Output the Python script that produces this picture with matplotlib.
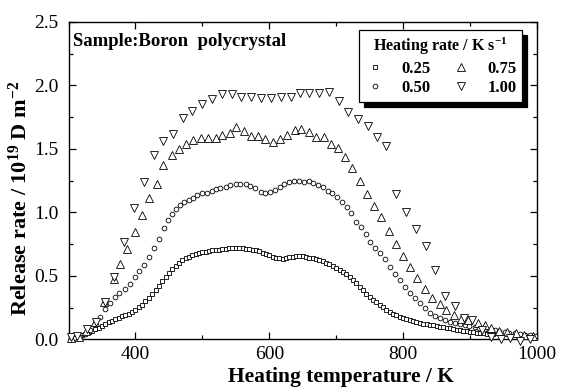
import matplotlib
matplotlib.use("Agg")
import matplotlib.pyplot as plt
from matplotlib.ticker import MultipleLocator, FormatStrFormatter

plt.rcParams['font.family'] = ['Liberation Serif', 'DejaVu Serif']
plt.rcParams['mathtext.default'] = 'regular'

# 0.25 K/s (squares)
t_025 = [305, 310, 315, 320, 325, 330, 335, 340, 345, 350, 355, 360, 365, 370, 375,
         380, 385, 390, 395, 400, 405, 410, 415, 420, 425, 430, 435, 440, 445, 450,
         455, 460, 465, 470, 475, 480, 485, 490, 495, 500, 505, 510, 515, 520, 525,
         530, 535, 540, 545, 550, 555, 560, 565, 570, 575, 580, 585, 590, 595, 600,
         605, 610, 615, 620, 625, 630, 635, 640, 645, 650, 655, 660, 665, 670, 675,
         680, 685, 690, 695, 700, 705, 710, 715, 720, 725, 730, 735, 740, 745, 750,
         755, 760, 765, 770, 775, 780, 785, 790, 795, 800, 805, 810, 815, 820, 825,
         830, 835, 840, 845, 850, 855, 860, 865, 870, 875, 880, 885, 890, 895, 900,
         905, 910, 915, 920, 925, 930, 935]
r_025 = [0.005, 0.013, 0.024, 0.034, 0.045, 0.055, 0.067, 0.079, 0.093, 0.107, 0.12,
         0.134, 0.147, 0.159, 0.17, 0.18, 0.19, 0.203, 0.217, 0.234, 0.252, 0.273,
         0.298, 0.324, 0.354, 0.387, 0.42, 0.457, 0.49, 0.52, 0.55, 0.575, 0.6, 0.622,
         0.638, 0.652, 0.663, 0.675, 0.68, 0.687, 0.69, 0.695, 0.7, 0.704, 0.707,
         0.711, 0.713, 0.716, 0.718, 0.719, 0.718, 0.717, 0.715, 0.711, 0.706, 0.7,
         0.692, 0.683, 0.673, 0.662, 0.652, 0.643, 0.637, 0.635, 0.64, 0.646, 0.651,
         0.655, 0.656, 0.653, 0.648, 0.644, 0.639, 0.633, 0.625, 0.615, 0.604, 0.59,
         0.575, 0.56, 0.546, 0.529, 0.511, 0.493, 0.467, 0.44, 0.414, 0.388, 0.36,
         0.335, 0.31, 0.29, 0.27, 0.251, 0.234, 0.217, 0.203, 0.19, 0.178, 0.169,
         0.16, 0.152, 0.145, 0.137, 0.131, 0.124, 0.118, 0.113, 0.109, 0.104, 0.1,
         0.095, 0.091, 0.087, 0.082, 0.077, 0.073, 0.068, 0.064, 0.06, 0.057, 0.053,
         0.05, 0.047, 0.044, 0.042, 0.04]

# 0.50 K/s (circles)
t_050 = [303, 310, 317.6, 325, 332.5, 340, 346.6, 354, 361.5, 369, 375.8, 383.9,
         391.3, 398.8, 405.7, 412.2, 419.7, 427.2, 434.6, 442, 448.5, 454.5, 460.9,
         466.9, 472.9, 479.3, 485.3, 491.8, 498.8, 506.3, 513.7, 520.1, 527.1, 534.6,
         542, 549.6, 557, 564.5, 571.9, 579.4, 586.9, 594.3, 601.8, 608.2, 615.7,
         622.1, 629.6, 637, 644.5, 651.5, 659, 665.4, 672.8, 680.3, 687.8, 694.3,
         701.2, 709.2, 716.1, 722.7, 730.1, 737.6, 744, 751, 758.5, 766, 773.4,
         780.9, 788.4, 794.8, 802.2, 809.7, 817.2, 824.6, 832.1, 839.6, 847, 854.5,
         862, 869.4, 876.9, 884.3, 891.8, 899, 907, 914, 922, 929, 937, 944, 952,
         959, 967, 974, 982, 989, 997]
r_050 = [0.005, 0.01, 0.02, 0.042, 0.073, 0.12, 0.178, 0.236, 0.283, 0.33, 0.362,
         0.396, 0.433, 0.488, 0.54, 0.585, 0.65, 0.716, 0.79, 0.874, 0.94, 0.99,
         1.024, 1.06, 1.079, 1.097, 1.113, 1.134, 1.15, 1.155, 1.17, 1.183, 1.194,
         1.202, 1.212, 1.22, 1.223, 1.22, 1.21, 1.189, 1.162, 1.15, 1.16, 1.176,
         1.202, 1.223, 1.241, 1.246, 1.249, 1.241, 1.249, 1.228, 1.215, 1.197, 1.17,
         1.15, 1.123, 1.084, 1.044, 0.992, 0.926, 0.882, 0.829, 0.769, 0.716, 0.677,
         0.63, 0.572, 0.514, 0.467, 0.414, 0.362, 0.323, 0.283, 0.244, 0.205, 0.186,
         0.165, 0.152, 0.139, 0.131, 0.12, 0.113, 0.105, 0.098, 0.09, 0.083, 0.077,
         0.07, 0.064, 0.058, 0.052, 0.047, 0.042, 0.037, 0.033, 0.03]

# 0.75 K/s (up triangles)
t_075 = [304, 315, 326.6, 340, 353.5, 367.5, 377.3, 387.3, 398.8, 409.7, 420.6, 432,
         441.5, 454, 465, 475, 486.3, 497.8, 508.7, 519.7, 530, 541, 551, 562,
         573.4, 583.3, 594.3, 605.7, 616.7, 626.6, 638, 648, 659.4, 670.4, 681.3,
         691.8, 702.7, 713.7, 724, 735, 746, 756.4, 767.5, 778.4, 789.8, 799.7,
         810.7, 821, 833, 843.6, 854.5, 864.5, 875.4, 886, 897, 912, 922, 932, 944,
         956, 969, 981, 994]
r_075 = [0.01, 0.02, 0.065, 0.14, 0.29, 0.475, 0.59, 0.708, 0.842, 0.979, 1.11,
         1.223, 1.372, 1.45, 1.5, 1.535, 1.57, 1.587, 1.587, 1.587, 1.609, 1.627,
         1.669, 1.643, 1.6, 1.6, 1.575, 1.556, 1.577, 1.609, 1.648, 1.653, 1.635,
         1.595, 1.595, 1.535, 1.509, 1.438, 1.345, 1.25, 1.144, 1.052, 0.965, 0.853,
         0.75, 0.656, 0.572, 0.485, 0.4, 0.323, 0.276, 0.231, 0.191, 0.16, 0.152,
         0.131, 0.113, 0.092, 0.068, 0.06, 0.047, 0.034, 0.026]

# 1.00 K/s (down triangles)
t_100 = [303, 312, 327, 341, 355, 368, 383, 398, 413, 427, 441, 456, 471, 485, 499,
         515, 530, 544, 558, 573, 588, 603, 618, 632, 646, 660, 674, 689, 704, 718,
         733, 748, 761, 775, 790, 805, 819, 834, 848, 862, 877, 891, 903, 918, 932,
         946, 960, 975, 989]
r_100 = [0.02, 0.03, 0.08, 0.14, 0.29, 0.49, 0.77, 1.03, 1.24, 1.45, 1.56, 1.62,
         1.74, 1.8, 1.85, 1.89, 1.93, 1.93, 1.91, 1.91, 1.9, 1.9, 1.91, 1.91, 1.94,
         1.94, 1.94, 1.945, 1.88, 1.79, 1.735, 1.68, 1.595, 1.52, 1.144, 1.005, 0.87,
         0.735, 0.546, 0.34, 0.262, 0.165, 0.15, 0.07, 0.02, 0.0, 0.01, -0.01, 0.0]

fig, ax = plt.subplots(figsize=(5.64, 3.92), dpi=100)
fig.subplots_adjust(left=0.1215, right=0.952, bottom=0.1344, top=0.9444)

mk = dict(linestyle='none', markerfacecolor='white', markeredgecolor='black',
          markeredgewidth=0.6, clip_on=False)
ax.plot(t_025, r_025, marker='s', markersize=2.7, label='0.25', zorder=3, **mk)
ax.plot(t_050, r_050, marker='o', markersize=3.4, label='0.50', zorder=3, **mk)
ax.plot(t_075, r_075, marker='^', markersize=5.5, label='0.75', zorder=3, **mk)
ax.plot(t_100, r_100, marker='v', markersize=5.5, label='1.00', zorder=3, **mk)

ax.set_xlim(300, 1000)
ax.set_ylim(0, 2.5)
ax.xaxis.set_major_locator(MultipleLocator(200))
ax.xaxis.set_minor_locator(MultipleLocator(100))
ax.yaxis.set_major_locator(MultipleLocator(0.5))
ax.yaxis.set_minor_locator(MultipleLocator(0.25))
ax.yaxis.set_major_formatter(FormatStrFormatter('%.1f'))
ax.tick_params(which='both', direction='in', top=True, right=True, labelsize=14,
               width=0.9)
ax.tick_params(axis='y', pad=7)
ax.tick_params(axis='x', pad=5)
ax.tick_params(which='major', length=5)
ax.tick_params(which='minor', length=3)
for s in ax.spines.values():
    s.set_linewidth(1.0)

ax.set_xlabel('Heating temperature / K', fontsize=15.5, fontweight='bold')
ax.set_ylabel('Release rate / 10$^{19}$ D m$^{-2}$', fontsize=16, fontweight='bold')
ax.xaxis.set_label_coords(0.582, -0.087)
ax.yaxis.set_label_coords(-0.078, 0.445)

ax.text(0.01, 0.937, 'Sample:Boron  polycrystal', transform=ax.transAxes,
        fontsize=13.5, fontweight='bold', va='center', ha='left')

# legend box with a solid black drop shadow
leg = ax.legend(loc='upper right', bbox_to_anchor=(0.969, 0.974), ncol=2,
                title='Heating rate / K s$^{-1}$', frameon=True, fancybox=False,
                edgecolor='black', framealpha=1, borderaxespad=0,
                prop={'weight': 'bold', 'size': 12}, handlelength=1.2,
                handletextpad=1.0, columnspacing=1.2, labelspacing=0.2,
                borderpad=0.35,
                shadow={'ox': 3.6, 'oy': -3.6, 'facecolor': 'black',
                        'edgecolor': 'black', 'alpha': 1.0})
leg.get_title().set_fontweight('bold')
leg.get_title().set_fontsize(11.5)
leg.get_frame().set_linewidth(0.9)

fig.savefig('out.png', dpi=100)
